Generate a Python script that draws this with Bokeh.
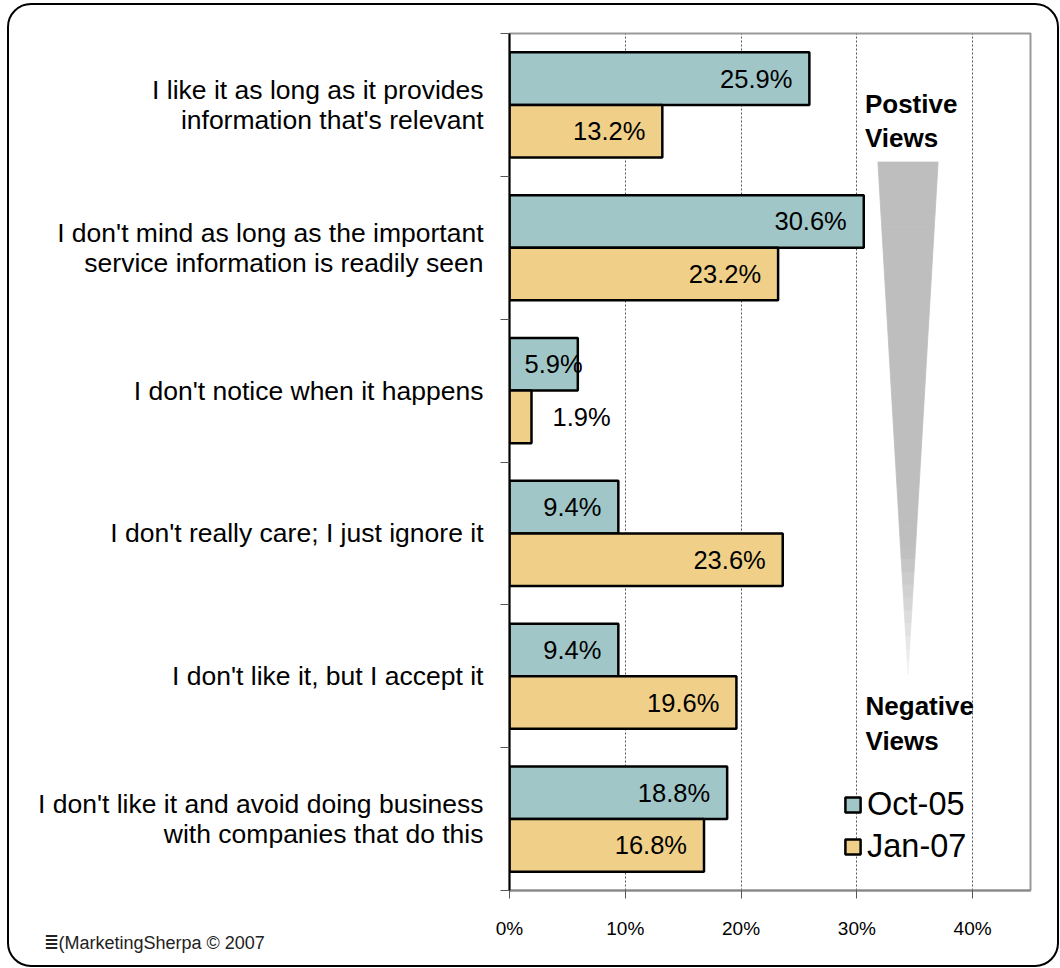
from bokeh.plotting import figure
from bokeh.models import (ColumnDataSource, FixedTicker, Range1d, Legend, LegendItem, Title)
from bokeh.core.properties import value
from bokeh.embed import file_html
from bokeh.resources import INLINE

# ---------------- data ----------------
categories = [
    "I like it as long as it provides\ninformation that's relevant",
    "I don't mind as long as the important\nservice information is readily seen",
    "I don't notice when it happens",
    "I don't really care; I just ignore it",
    "I don't like it, but I accept it",
    "I don't like it and avoid doing business\nwith companies that do this",
]
oct05 = [25.9, 30.6, 5.9, 9.4, 9.4, 18.8]
jan07 = [13.2, 23.2, 1.9, 23.6, 19.6, 16.8]
series_names = ["Oct-05", "Jan-07"]
series_colors = ["#A0C6C8", "#F0D088"]
x_ticks = [0, 10, 20, 30, 40]
x_tick_labels = ["0%", "10%", "20%", "30%", "40%"]

FONT = "Liberation Sans"
n = len(categories)

p = figure(width=1048, height=960, output_backend="svg", toolbar_location=None,
           x_range=Range1d(0, 45), y_range=Range1d(0, n),
           min_border_left=500, min_border_right=31, min_border_top=28,
           min_border_bottom=79)
p.styles = {"margin-left": "7px", "margin-top": "3px", "border": "2px solid black",
            "border-radius": "24px", "box-sizing": "content-box", "overflow": "hidden"}
p.background_fill_color = "white"
p.border_fill_color = None
p.outline_line_color = "#999999"
p.outline_line_width = 2

# band centres: first category on top
centers = [n - 0.5 - i for i in range(n)]
bar_h = 0.368
off = 0.184

renderers = []
for vals, name, color, sign in [(oct05, series_names[0], series_colors[0], 1),
                                (jan07, series_names[1], series_colors[1], -1)]:
    ys = [c + sign * off for c in centers]
    src = ColumnDataSource(dict(y=ys, right=vals))
    r = p.hbar(y="y", right="right", left=0, height=bar_h, source=src,
               fill_color=color, line_color="black", line_width=2.5)
    renderers.append(r)
    # value labels: inside the bar end, inside from the axis, or outside
    big = dict(x=[], y=[], t=[])
    mid = dict(x=[], y=[], t=[])
    small = dict(x=[], y=[], t=[])
    for v, y in zip(vals, ys):
        lab = f"{v:.1f}%"
        if v >= 8:
            d = big
        elif v >= 3:
            d = mid
        else:
            d = small
        d["x"].append(v if d is not mid else 0)
        d["y"].append(y)
        d["t"].append(lab)
    common = dict(text_font=value(FONT), text_font_size="25.5px", text_color="black",
                  text_baseline="middle")
    if big["x"]:
        p.text(x=big["x"], y=big["y"], text=big["t"], text_align="right",
               x_offset=-17, **common)
    if mid["x"]:
        p.text(x=mid["x"], y=mid["y"], text=mid["t"], text_align="left",
               x_offset=15, **common)
    if small["x"]:
        p.text(x=small["x"], y=small["y"], text=small["t"], text_align="left",
               x_offset=21, **common)

# ---------------- gradient triangle ----------------
tri_top_y, tri_tip_y = 5.10, 1.51
tri_left, tri_right, tri_tip_x = 31.82, 37.02, 34.42
steps = 40
for k in range(steps):
    f0 = k / steps
    f1 = (k + 1) / steps
    y0 = tri_top_y + (tri_tip_y - tri_top_y) * f0
    y1 = tri_top_y + (tri_tip_y - tri_top_y) * f1
    l0 = tri_left + (tri_tip_x - tri_left) * f0
    r0 = tri_right + (tri_tip_x - tri_right) * f0
    l1 = tri_left + (tri_tip_x - tri_left) * f1
    r1 = tri_right + (tri_tip_x - tri_right) * f1
    fm = (f0 + f1) / 2
    if fm < 0.75:
        g = 190
    else:
        g = int(190 + (245 - 190) * ((fm - 0.75) / 0.25))
    col = "#%02x%02x%02x" % (g, g, g)
    p.patch([l0, r0, r1, l1], [y0, y0, y1, y1], fill_color=col, line_color=col,
            line_width=0.8)

p.text(x=[30.7], y=[5.389], text=["Postive\nViews"], text_font=value(FONT),
       text_font_size="26px", text_font_style="bold", text_baseline="middle",
       text_align="left", text_line_height=1.15)
p.text(x=[30.75], y=[1.17], text=["Negative\nViews"], text_font=value(FONT),
       text_font_size="26px", text_font_style="bold", text_baseline="middle",
       text_align="left", text_line_height=1.15)

# ---------------- axes ----------------
p.xaxis.ticker = FixedTicker(ticks=x_ticks)
p.xaxis.major_label_overrides = {t: l for t, l in zip(x_ticks, x_tick_labels)}
p.xaxis.major_label_text_font = FONT
p.xaxis.major_label_text_font_size = "19px"
p.xaxis.major_label_text_color = "black"
p.xaxis.major_tick_out = 8
p.xaxis.major_tick_in = 0
p.xaxis.major_tick_line_color = "#555555"
p.xaxis.minor_tick_line_color = None
p.xaxis.axis_line_color = "#888888"
p.xaxis.axis_line_width = 2
p.xaxis.major_label_standoff = 19

p.yaxis.ticker = FixedTicker(ticks=centers, minor_ticks=list(range(n + 1)))
p.yaxis.major_label_overrides = {c: lab for c, lab in zip(centers, categories)}
p.yaxis.major_label_text_font = FONT
p.yaxis.major_label_text_font_size = "26.5px"
p.yaxis.major_label_text_color = "black"
p.yaxis.major_label_text_line_height = 1.0
p.yaxis.major_tick_line_color = None
p.yaxis.major_tick_out = 0
p.yaxis.major_tick_in = 0
p.yaxis.minor_tick_out = 9
p.yaxis.minor_tick_in = 0
p.yaxis.minor_tick_line_color = "#555555"
p.yaxis.axis_line_color = "black"
p.yaxis.axis_line_width = 2
p.yaxis.major_label_standoff = 17

p.ygrid.grid_line_color = None
p.xgrid.grid_line_color = "#555555"
p.xgrid.grid_line_dash = "2 2"
p.xgrid.grid_line_width = 1

# ---------------- legend ----------------
legend = Legend(items=[LegendItem(label=series_names[0], renderers=[renderers[0]]),
                       LegendItem(label=series_names[1], renderers=[renderers[1]])],
                location=(334, 25), orientation="vertical",
                glyph_width=19, glyph_height=19, label_text_font=FONT,
                label_text_font_size="32.5px", label_text_color="black",
                label_standoff=5, spacing=5,
                padding=0, margin=0, border_line_color=None,
                background_fill_alpha=0)
p.add_layout(legend, "center")

# ---------------- logo ----------------
logo = Title(text="\u2263(MarketingSherpa \u00a9 2007", align="left", offset=-466,
             text_font=FONT, text_font_size="18px", text_font_style="normal",
             text_color="#222222", standoff=-18, vertical_align="top")
p.add_layout(logo, "below")

open("out.html", "w").write(file_html(p, INLINE))
